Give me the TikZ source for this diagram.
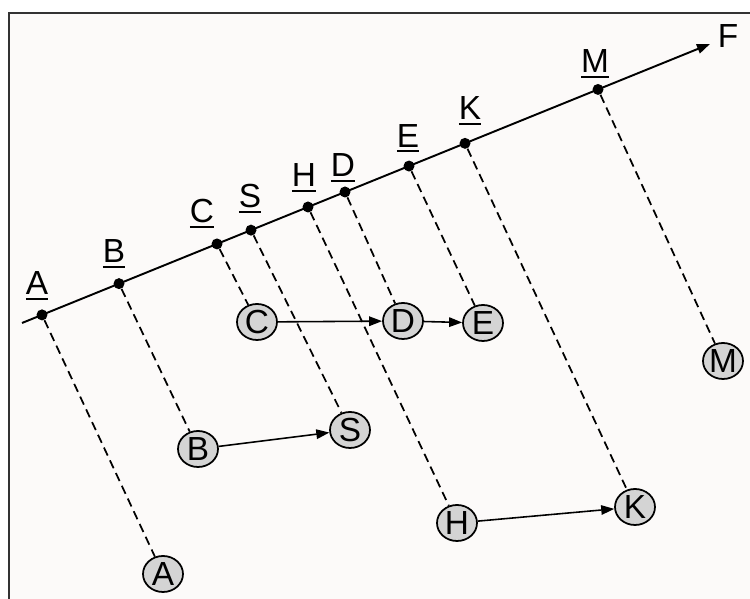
\documentclass[tikz,border=0pt]{standalone}
\usepackage{fontspec}
\setmainfont{Liberation Sans}
\usepackage{tikz}
\usetikzlibrary{arrows.meta,shapes.geometric}

\definecolor{paper}{RGB}{252,250,249}
\definecolor{ballgray}{RGB}{212,212,212}
\definecolor{framegray}{RGB}{51,51,51}

\newcommand\ulabel[1]{\setbox0\hbox{#1}\rlap{\rule[-2.6pt]{\wd0}{0.9pt}}\box0}

\begin{document}
\begin{tikzpicture}[
	every node/.style={font=\fontsize{19}{22}\selectfont},
	dotmark/.style={circle, fill=black, inner sep=0pt, minimum size=0.22cm},
	lbl/.style={anchor=base, inner sep=0pt},
	ball/.style={ellipse, draw, fill=ballgray, line width=1pt, minimum width=0.8cm, minimum height=0.72cm, inner sep=0pt},
	proj/.style={dash pattern=on 5pt off 3pt, line width=1pt},
	link/.style={-{Triangle[length=2.6mm,width=1.9mm]}, line width=0.9pt}
]
	\useasboundingbox (0,0) rectangle (15,11.98);
	
	% frame
	\fill[paper] (0.18,0) rectangle (15,11.72);
	\draw[framegray, line width=1.1pt] (0.18,0) -- (0.18,11.72) -- (15,11.72);
	
	% axis
	\coordinate (start) at (0.44,5.52);
	\coordinate (tip) at (14.2,11.1);
	\draw[-{Triangle[length=2.6mm,width=1.9mm]}, line width=1.1pt] (start) -- (tip);
	\node[lbl] (F) at (14.56,11.02) {F};
	
	\node[dotmark] (pA) at (0.84,5.682) {};
	\node[dotmark] (pB) at (2.38,6.307) {};
	\node[dotmark] (pC) at (4.34,7.101) {};
	\node[dotmark] (pS) at (5.02,7.377) {};
	\node[dotmark] (pH) at (6.16,7.840) {};
	\node[dotmark] (pD) at (6.90,8.140) {};
	\node[dotmark] (pE) at (8.18,8.659) {};
	\node[dotmark] (pK) at (9.30,9.113) {};
	\node[dotmark] (pM) at (11.96,10.191) {};
	
	\node[lbl] (lA) at (0.74,6.08) {\ulabel{A}};
	\node[lbl] (lB) at (2.28,6.72) {\ulabel{B}};
	\node[lbl] (lC) at (4.04,7.52) {\ulabel{C}};
	\node[lbl] (lS) at (5.00,7.82) {\ulabel{S}};
	\node[lbl] (lH) at (6.08,8.24) {\ulabel{H}};
	\node[lbl] (lD) at (6.86,8.44) {\ulabel{D}};
	\node[lbl] (lE) at (8.16,9.03) {\ulabel{E}};
	\node[lbl] (lK) at (9.40,9.58) {\ulabel{K}};
	\node[lbl] (lM) at (11.90,10.52) {\ulabel{M}};
	
	% projections
	\node[ball] (A) at (3.26,0.50) {A};
	\node[ball] (B) at (3.96,3.00) {B};
	\node[ball] (C) at (5.14,5.54) {C};
	\node[ball] (S) at (7.00,3.38) {S};
	\node[ball] (H) at (9.14,1.52) {H};
	\node[ball] (D) at (8.06,5.56) {D};
	\node[ball] (E) at (9.66,5.52) {E};
	\node[ball] (K) at (12.70,1.84) {K};
	\node[ball] (M) at (14.46,4.76) {M};
	
	\foreach \n in {A,B,C,S,H,D,E,K,M}
		\draw[proj] (p\n) -- (\n);
	
	\draw[link] (C) -- (D);
	\draw[link] (D) -- (E);
	\draw[link] (B) -- (S);
	\draw[link] (H) -- (K);
	
\end{tikzpicture}
\end{document}
